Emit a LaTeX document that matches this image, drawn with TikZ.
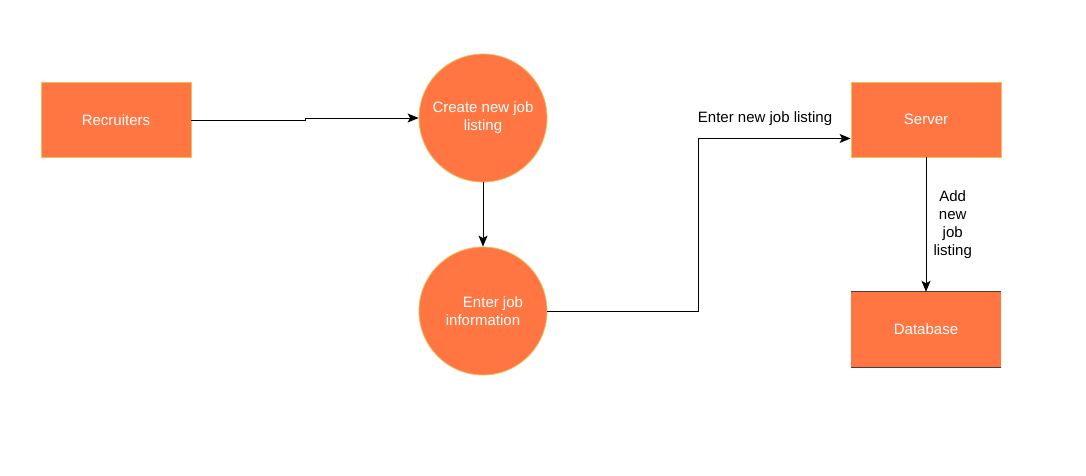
\documentclass[tikz,border=0pt]{standalone}
\usepackage{fontspec}
\setmainfont{Liberation Sans}
\usepackage{xcolor}
\usetikzlibrary{arrows.meta,calc}
\definecolor{boxfill}{HTML}{FF7642}
\definecolor{boxline}{HTML}{EBBE5E}
\definecolor{storeline}{HTML}{4A3C3C}

\begin{document}
\begin{tikzpicture}[x=1pt, y=-1pt, every node/.style={font=\fontsize{15}{18}\selectfont, align=center},%
        ent/.style={draw=boxline, fill=boxfill, text=white, line width=0.8pt, minimum width=150pt, minimum height=75pt},%
        proc/.style={circle, draw=boxline, fill=boxfill, text=white, line width=0.8pt, minimum size=128pt},%
        store/.style={fill=boxfill, text=white, minimum width=150pt, minimum height=75pt},%
        flow/.style={line width=1pt, -{Stealth[length=11pt, width=9pt, inset=2.5pt]}}]
        \useasboundingbox (0,0) rectangle (1086,475);
        \node[ent] (rec) at (116,120) {Recruiters};
        \node[proc] (c1) at (483,118) {Create new job\\listing};
        \node[proc] (c2) at (483,311) {\hspace*{20pt}Enter job\\information};
        \node[ent] (srv) at (926,119.5) {Server};
        \node[store] (db) at (926,329.5) {Database};
        \draw[storeline, line width=1.2pt] (db.north west) -- (db.north east);
        \draw[storeline, line width=1.2pt] (db.south west) -- (db.south east);
        % flows
        \draw[flow] (rec.east) -- ++(114,0) |- (c1.west);
        \draw[flow] (c1.south) -- (c2.north);
        \draw[flow] (c2.east) -- ++(151,0) |- node[pos=0.5, anchor=south west, inner sep=0, xshift=-1pt, yshift=12pt]{Enter new job listing} ($(srv.south west)!0.25!(srv.north west)$);
        \draw[flow] (srv.south) -- node[midway, anchor=west, inner sep=0, xshift=7pt, yshift=0pt]{Add\\new\\job\\listing} (db.north);
    \end{tikzpicture}
\end{document}
